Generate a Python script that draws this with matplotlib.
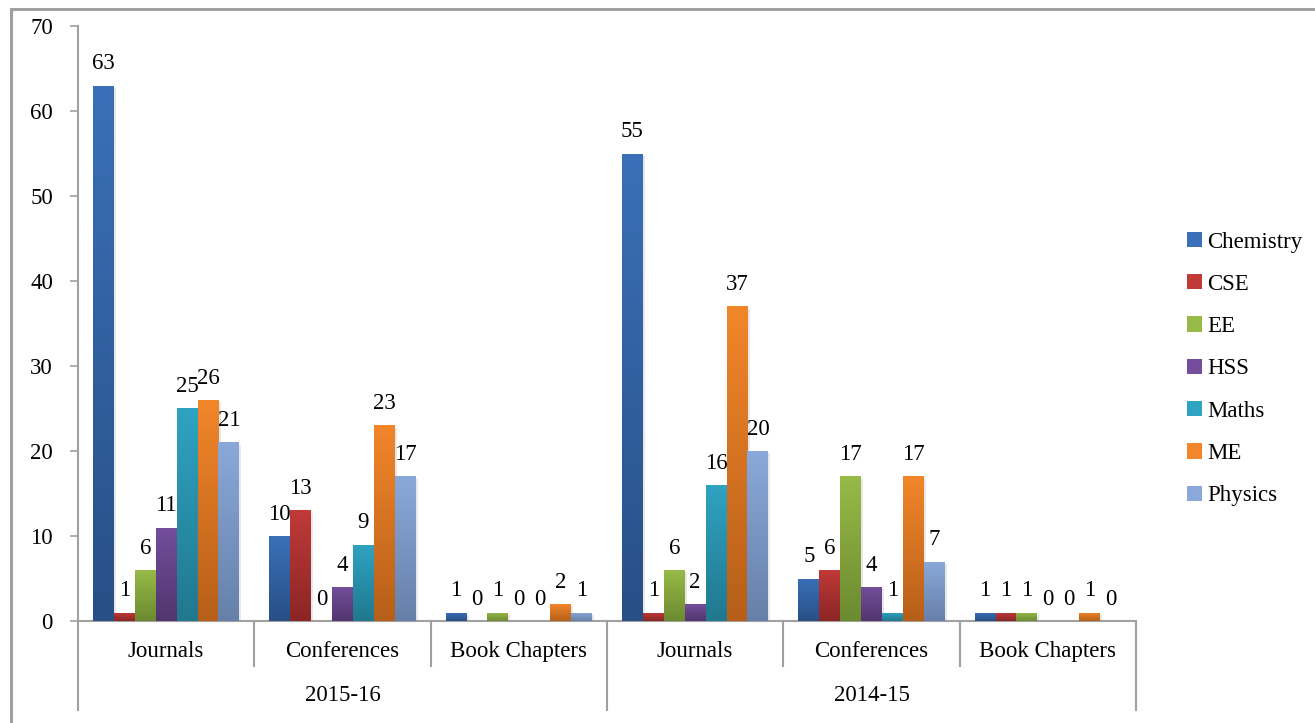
import numpy as np
import matplotlib
matplotlib.use("Agg")
import matplotlib.pyplot as plt
import matplotlib.patches as mpatches
import matplotlib.patheffects as pe
from matplotlib.colors import LinearSegmentedColormap
import matplotlib.transforms as mtransforms

plt.rcParams['font.family'] = ['Liberation Serif', 'DejaVu Serif']

years = ['2015-16', '2014-15']
kinds = ['Journals', 'Conferences', 'Book Chapters']
depts = ['Chemistry', 'CSE', 'EE', 'HSS', 'Maths', 'ME', 'Physics']

# one row per department, columns: 2015-16 (J, C, B), 2014-15 (J, C, B)
chemistry = [63, 10, 1, 55, 5, 1]
cse = [1, 13, 0, 1, 6, 1]
ee = [6, 0, 1, 6, 17, 1]
hss = [11, 4, 0, 2, 4, 0]
maths = [25, 9, 0, 16, 1, 0]
me = [26, 23, 2, 37, 17, 1]
physics = [21, 17, 1, 20, 7, 0]
values = [chemistry, cse, ee, hss, maths, me, physics]

# (top, bottom) colours of the gradient fill
top_cols = ['#3a70b8', '#c03a38', '#97bb48', '#744e9c', '#2fa3c2', '#f2862a', '#8aa9da']
bot_cols = ['#284f86', '#8a2625', '#6c8a30', '#52356e', '#21788e', '#b65f19', '#6680a9']

FS = 16.5

fig = plt.figure(figsize=(13.15, 7.23), dpi=100)
W, H = 1315, 723
ax = fig.add_axes([78 / W, 1 - 621 / H, (1136 - 78) / W, (621 - 26) / H])

ncat = len(years) * len(kinds)
x = np.arange(ncat)
bw = 0.1186
grad = np.linspace(0, 1, 256).reshape(-1, 1)

for i, (vals, tc, bc) in enumerate(zip(values, top_cols, bot_cols)):
    pos = x - 3 * bw + i * bw
    cmap = LinearSegmentedColormap.from_list('g%d' % i, [bc, tc])
    bars = ax.bar(pos, vals, width=bw, color=tc, linewidth=0, zorder=2)
    for b, v in zip(bars, vals):
        b.set_path_effects([pe.SimplePatchShadow(offset=(1.5, -1.5), shadow_rgbFace='#808080', alpha=0.18),
                            pe.Normal()])
        if v > 0:
            x0 = b.get_x()
            im = ax.imshow(grad, extent=[x0, x0 + bw, 0, v], origin='lower', cmap=cmap,
                           aspect='auto', interpolation='bilinear', zorder=3)
            im.set_clip_path(b)
        ax.annotate(str(v), (b.get_x() + bw / 2, v), xytext=(0, 8), textcoords='offset points',
                    ha='center', va='bottom', fontsize=FS)

ax.set_xlim(-0.5, ncat - 0.5)
ax.set_ylim(0, 70)
ax.set_yticks(range(0, 71, 10))
ax.set_xticks([])
ax.tick_params(axis='y', length=6, color='#a0a0a0', labelsize=FS, pad=12, width=1.2)

for s in ['top', 'right']:
    ax.spines[s].set_visible(False)
for s in ['left', 'bottom']:
    ax.spines[s].set_color('#a0a0a0')
    ax.spines[s].set_linewidth(1.5)

# two-level category axis
trans = mtransforms.blended_transform_factory(ax.transData, ax.transAxes)
for k in range(ncat + 1):
    depth = -0.1496 if k % len(kinds) == 0 else -0.0756
    ax.plot([k - 0.5, k - 0.5], [0, depth], transform=trans, color='#a0a0a0',
            lw=1.5, clip_on=False)
for k in range(ncat):
    ax.text(k, -0.051, kinds[k % len(kinds)], transform=trans, ha='center', va='center',
            fontsize=FS)
for j, yr in enumerate(years):
    ax.text(j * len(kinds) + 1, -0.126, yr, transform=trans, ha='center', va='center',
            fontsize=FS)

handles = [mpatches.Patch(facecolor=c, edgecolor='none') for c in top_cols]
fig.legend(handles, depts, loc='center left', bbox_to_anchor=(1187 / W, 1 - 369 / H),
           frameon=False, fontsize=FS, handlelength=0.65, handleheight=0.65,
           handletextpad=0.25, labelspacing=0.93, borderaxespad=0, borderpad=0)

# outer frame
fig.patches.append(mpatches.Rectangle((11 / W, -0.1), 2, 1.1 - 9 / H, transform=fig.transFigure,
                                      fill=False, edgecolor='#a0a0a0', lw=2.2))

fig.savefig('out.png', dpi=100)
